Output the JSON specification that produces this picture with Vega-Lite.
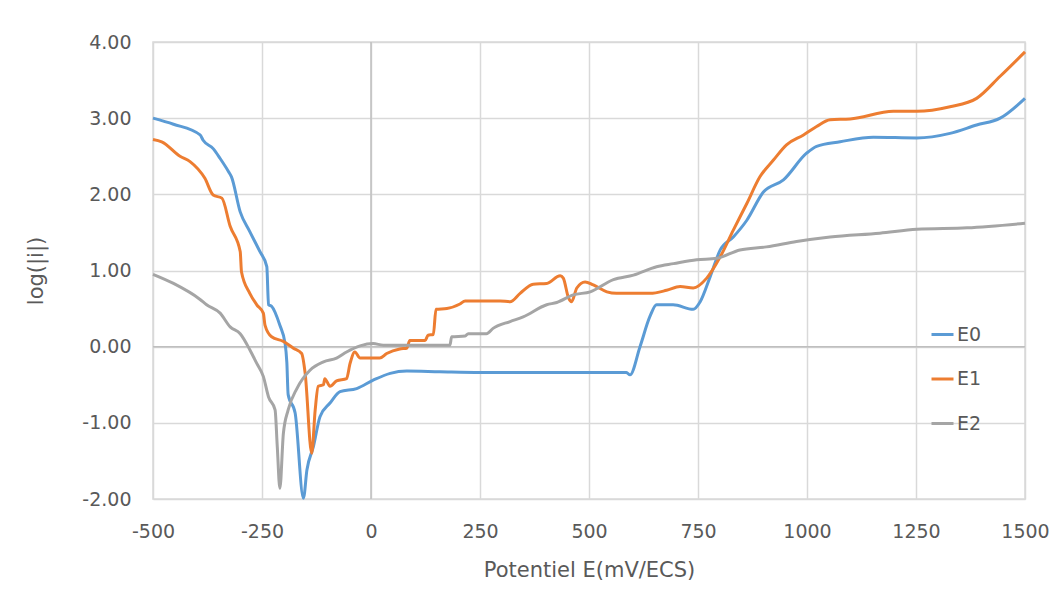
{
  "$schema": "https://vega.github.io/schema/vega-lite/v6.json",
  "width": 872,
  "height": 457,
  "autosize": {"type": "none"},
  "padding": {"left": 153, "top": 42, "right": 26, "bottom": 113},
  "background": "white",
  "config": {
    "view": {"stroke": "#d9d9d9", "strokeWidth": 1.5},
    "font": "DejaVu Sans",
    "axis": {
      "grid": true, "gridColor": "#d9d9d9", "gridWidth": 1.5,
      "domain": false, "ticks": false,
      "labelFlush": false, "labelOverlap": false,
      "labelFont": "DejaVu Sans", "labelFontSize": 19, "labelColor": "#595959",
      "titleFont": "DejaVu Sans", "titleFontSize": 21, "titleFontWeight": "normal", "titleColor": "#595959"
    },
    "axisX": {"labelPadding": 23, "titlePadding": 18},
    "axisY": {"labelPadding": 22, "titlePadding": 35}
  },
  "datasets": {
    "curves": [
      {"s": "E0", "E": -500, "logi": 3.00},
      {"s": "E0", "E": -453, "logi": 2.92},
      {"s": "E0", "E": -392, "logi": 2.78},
      {"s": "E0", "E": -385, "logi": 2.71},
      {"s": "E0", "E": -362, "logi": 2.60},
      {"s": "E0", "E": -346, "logi": 2.47},
      {"s": "E0", "E": -327, "logi": 2.30},
      {"s": "E0", "E": -320, "logi": 2.23},
      {"s": "E0", "E": -300, "logi": 1.77},
      {"s": "E0", "E": -278, "logi": 1.51},
      {"s": "E0", "E": -255, "logi": 1.25},
      {"s": "E0", "E": -239, "logi": 1.05},
      {"s": "E0", "E": -235, "logi": 0.55},
      {"s": "E0", "E": -228, "logi": 0.53},
      {"s": "E0", "E": -209, "logi": 0.28},
      {"s": "E0", "E": -197, "logi": 0.04},
      {"s": "E0", "E": -193, "logi": -0.21},
      {"s": "E0", "E": -190, "logi": -0.63},
      {"s": "E0", "E": -174, "logi": -0.87},
      {"s": "E0", "E": -155, "logi": -1.99},
      {"s": "E0", "E": -147, "logi": -1.62},
      {"s": "E0", "E": -132, "logi": -1.31},
      {"s": "E0", "E": -117, "logi": -0.92},
      {"s": "E0", "E": -94, "logi": -0.74},
      {"s": "E0", "E": -71, "logi": -0.59},
      {"s": "E0", "E": -33, "logi": -0.55},
      {"s": "E0", "E": 5, "logi": -0.44},
      {"s": "E0", "E": 44, "logi": -0.35},
      {"s": "E0", "E": 82, "logi": -0.32},
      {"s": "E0", "E": 158, "logi": -0.33},
      {"s": "E0", "E": 250, "logi": -0.34},
      {"s": "E0", "E": 400, "logi": -0.34},
      {"s": "E0", "E": 586, "logi": -0.34},
      {"s": "E0", "E": 594, "logi": -0.37},
      {"s": "E0", "E": 617, "logi": 0.0},
      {"s": "E0", "E": 640, "logi": 0.40},
      {"s": "E0", "E": 655, "logi": 0.55},
      {"s": "E0", "E": 693, "logi": 0.55},
      {"s": "E0", "E": 739, "logi": 0.49},
      {"s": "E0", "E": 755, "logi": 0.59},
      {"s": "E0", "E": 778, "logi": 0.92},
      {"s": "E0", "E": 801, "logi": 1.27},
      {"s": "E0", "E": 831, "logi": 1.44},
      {"s": "E0", "E": 862, "logi": 1.66},
      {"s": "E0", "E": 900, "logi": 2.03},
      {"s": "E0", "E": 946, "logi": 2.19},
      {"s": "E0", "E": 999, "logi": 2.54},
      {"s": "E0", "E": 1022, "logi": 2.63},
      {"s": "E0", "E": 1076, "logi": 2.69},
      {"s": "E0", "E": 1152, "logi": 2.75},
      {"s": "E0", "E": 1252, "logi": 2.74},
      {"s": "E0", "E": 1328, "logi": 2.80},
      {"s": "E0", "E": 1389, "logi": 2.91},
      {"s": "E0", "E": 1443, "logi": 3.00},
      {"s": "E0", "E": 1500, "logi": 3.26},

      {"s": "E1", "E": -500, "logi": 2.72},
      {"s": "E1", "E": -480, "logi": 2.69},
      {"s": "E1", "E": -438, "logi": 2.50},
      {"s": "E1", "E": -415, "logi": 2.43},
      {"s": "E1", "E": -381, "logi": 2.21},
      {"s": "E1", "E": -362, "logi": 1.99},
      {"s": "E1", "E": -342, "logi": 1.95},
      {"s": "E1", "E": -323, "logi": 1.58},
      {"s": "E1", "E": -300, "logi": 1.25},
      {"s": "E1", "E": -297, "logi": 0.98},
      {"s": "E1", "E": -278, "logi": 0.70},
      {"s": "E1", "E": -262, "logi": 0.55},
      {"s": "E1", "E": -247, "logi": 0.44},
      {"s": "E1", "E": -243, "logi": 0.28},
      {"s": "E1", "E": -228, "logi": 0.13},
      {"s": "E1", "E": -201, "logi": 0.07},
      {"s": "E1", "E": -178, "logi": -0.02},
      {"s": "E1", "E": -159, "logi": -0.09},
      {"s": "E1", "E": -151, "logi": -0.35},
      {"s": "E1", "E": -136, "logi": -1.40},
      {"s": "E1", "E": -128, "logi": -0.83},
      {"s": "E1", "E": -121, "logi": -0.52},
      {"s": "E1", "E": -109, "logi": -0.50},
      {"s": "E1", "E": -106, "logi": -0.42},
      {"s": "E1", "E": -94, "logi": -0.52},
      {"s": "E1", "E": -79, "logi": -0.45},
      {"s": "E1", "E": -56, "logi": -0.42},
      {"s": "E1", "E": -48, "logi": -0.22},
      {"s": "E1", "E": -37, "logi": -0.07},
      {"s": "E1", "E": -25, "logi": -0.15},
      {"s": "E1", "E": 20, "logi": -0.15},
      {"s": "E1", "E": 36, "logi": -0.09},
      {"s": "E1", "E": 66, "logi": -0.03},
      {"s": "E1", "E": 82, "logi": -0.02},
      {"s": "E1", "E": 89, "logi": 0.08},
      {"s": "E1", "E": 124, "logi": 0.08},
      {"s": "E1", "E": 131, "logi": 0.15},
      {"s": "E1", "E": 143, "logi": 0.16},
      {"s": "E1", "E": 149, "logi": 0.49},
      {"s": "E1", "E": 174, "logi": 0.50},
      {"s": "E1", "E": 204, "logi": 0.56},
      {"s": "E1", "E": 216, "logi": 0.60},
      {"s": "E1", "E": 296, "logi": 0.60},
      {"s": "E1", "E": 319, "logi": 0.59},
      {"s": "E1", "E": 342, "logi": 0.70},
      {"s": "E1", "E": 372, "logi": 0.82},
      {"s": "E1", "E": 403, "logi": 0.83},
      {"s": "E1", "E": 434, "logi": 0.93},
      {"s": "E1", "E": 441, "logi": 0.90},
      {"s": "E1", "E": 453, "logi": 0.64},
      {"s": "E1", "E": 460, "logi": 0.59},
      {"s": "E1", "E": 472, "logi": 0.77},
      {"s": "E1", "E": 491, "logi": 0.85},
      {"s": "E1", "E": 510, "logi": 0.81},
      {"s": "E1", "E": 541, "logi": 0.72},
      {"s": "E1", "E": 563, "logi": 0.70},
      {"s": "E1", "E": 640, "logi": 0.70},
      {"s": "E1", "E": 678, "logi": 0.74},
      {"s": "E1", "E": 709, "logi": 0.79},
      {"s": "E1", "E": 739, "logi": 0.77},
      {"s": "E1", "E": 770, "logi": 0.90},
      {"s": "E1", "E": 801, "logi": 1.18},
      {"s": "E1", "E": 831, "logi": 1.53},
      {"s": "E1", "E": 862, "logi": 1.88},
      {"s": "E1", "E": 892, "logi": 2.23},
      {"s": "E1", "E": 923, "logi": 2.45},
      {"s": "E1", "E": 953, "logi": 2.65},
      {"s": "E1", "E": 992, "logi": 2.78},
      {"s": "E1", "E": 1022, "logi": 2.89},
      {"s": "E1", "E": 1053, "logi": 2.98},
      {"s": "E1", "E": 1099, "logi": 2.99},
      {"s": "E1", "E": 1198, "logi": 3.09},
      {"s": "E1", "E": 1252, "logi": 3.09},
      {"s": "E1", "E": 1328, "logi": 3.15},
      {"s": "E1", "E": 1389, "logi": 3.26},
      {"s": "E1", "E": 1443, "logi": 3.55},
      {"s": "E1", "E": 1500, "logi": 3.87},

      {"s": "E2", "E": -500, "logi": 0.95},
      {"s": "E2", "E": -453, "logi": 0.83},
      {"s": "E2", "E": -392, "logi": 0.62},
      {"s": "E2", "E": -377, "logi": 0.55},
      {"s": "E2", "E": -346, "logi": 0.44},
      {"s": "E2", "E": -323, "logi": 0.26},
      {"s": "E2", "E": -300, "logi": 0.17},
      {"s": "E2", "E": -278, "logi": -0.04},
      {"s": "E2", "E": -262, "logi": -0.22},
      {"s": "E2", "E": -247, "logi": -0.39},
      {"s": "E2", "E": -235, "logi": -0.66},
      {"s": "E2", "E": -220, "logi": -0.83},
      {"s": "E2", "E": -215, "logi": -1.31},
      {"s": "E2", "E": -209, "logi": -1.86},
      {"s": "E2", "E": -201, "logi": -1.14},
      {"s": "E2", "E": -190, "logi": -0.83},
      {"s": "E2", "E": -170, "logi": -0.55},
      {"s": "E2", "E": -140, "logi": -0.31},
      {"s": "E2", "E": -109, "logi": -0.20},
      {"s": "E2", "E": -79, "logi": -0.15},
      {"s": "E2", "E": -56, "logi": -0.07},
      {"s": "E2", "E": -25, "logi": 0.01},
      {"s": "E2", "E": 5, "logi": 0.04},
      {"s": "E2", "E": 28, "logi": 0.02},
      {"s": "E2", "E": 181, "logi": 0.02},
      {"s": "E2", "E": 185, "logi": 0.13},
      {"s": "E2", "E": 216, "logi": 0.14},
      {"s": "E2", "E": 223, "logi": 0.17},
      {"s": "E2", "E": 265, "logi": 0.17},
      {"s": "E2", "E": 280, "logi": 0.24},
      {"s": "E2", "E": 319, "logi": 0.33},
      {"s": "E2", "E": 349, "logi": 0.39},
      {"s": "E2", "E": 403, "logi": 0.55},
      {"s": "E2", "E": 426, "logi": 0.58},
      {"s": "E2", "E": 464, "logi": 0.68},
      {"s": "E2", "E": 503, "logi": 0.72},
      {"s": "E2", "E": 556, "logi": 0.88},
      {"s": "E2", "E": 602, "logi": 0.94},
      {"s": "E2", "E": 655, "logi": 1.05},
      {"s": "E2", "E": 694, "logi": 1.09},
      {"s": "E2", "E": 747, "logi": 1.14},
      {"s": "E2", "E": 793, "logi": 1.16},
      {"s": "E2", "E": 846, "logi": 1.27},
      {"s": "E2", "E": 907, "logi": 1.31},
      {"s": "E2", "E": 976, "logi": 1.38},
      {"s": "E2", "E": 1053, "logi": 1.44},
      {"s": "E2", "E": 1167, "logi": 1.49},
      {"s": "E2", "E": 1252, "logi": 1.54},
      {"s": "E2", "E": 1367, "logi": 1.56},
      {"s": "E2", "E": 1500, "logi": 1.62}
    ]
  },
  "layer": [
    {
      "data": {"values": [{"E": 0}]},
      "mark": {"type": "rule", "color": "#bfbfbf", "strokeWidth": 1.5},
      "encoding": {
        "x": {"field": "E", "type": "quantitative", "scale": {"domain": [-500, 1500], "nice": false, "zero": false},
              "axis": {"title": "Potentiel E(mV/ECS)", "values": [-500, -250, 0, 250, 500, 750, 1000, 1250, 1500],
                       "labelExpr": "replace(format(datum.value, 'd'), '\u2212', '-')"}}
      }
    },
    {
      "data": {"values": [{"logi": 0}]},
      "mark": {"type": "rule", "color": "#bfbfbf", "strokeWidth": 1.5},
      "encoding": {
        "y": {"field": "logi", "type": "quantitative", "scale": {"domain": [-2, 4], "nice": false},
              "axis": {"title": "log(|i|)", "values": [-2, -1, 0, 1, 2, 3, 4],
                       "labelExpr": "replace(format(datum.value, '.2f'), '\u2212', '-')"}}
      }
    },
    {
      "data": {"name": "curves"},
      "mark": {"type": "line", "strokeWidth": 3, "interpolate": "monotone"},
      "encoding": {
        "x": {
          "field": "E", "type": "quantitative",
          "scale": {"domain": [-500, 1500], "nice": false, "zero": false},
          "axis": {"title": "Potentiel E(mV/ECS)", "values": [-500, -250, 0, 250, 500, 750, 1000, 1250, 1500],
                   "labelExpr": "replace(format(datum.value, 'd'), '\u2212', '-')"}
        },
        "y": {
          "field": "logi", "type": "quantitative",
          "scale": {"domain": [-2, 4], "nice": false},
          "axis": {"title": "log(|i|)", "values": [-2, -1, 0, 1, 2, 3, 4],
                   "labelExpr": "replace(format(datum.value, '.2f'), '\u2212', '-')"}
        },
        "color": {
          "field": "s", "type": "nominal",
          "scale": {"domain": ["E0", "E1", "E2"], "range": ["#5B9BD5", "#ED7D31", "#A5A5A5"]},
          "legend": {
            "orient": "none", "legendX": 777, "legendY": 280, "title": null,
            "padding": 0, "symbolType": "stroke", "symbolStrokeWidth": 3, "symbolSize": 484,
            "labelFont": "DejaVu Sans", "labelFontSize": 19, "labelColor": "#595959", "labelOffset": 2, "rowPadding": 21.5
          }
        }
      }
    }
  ]
}
